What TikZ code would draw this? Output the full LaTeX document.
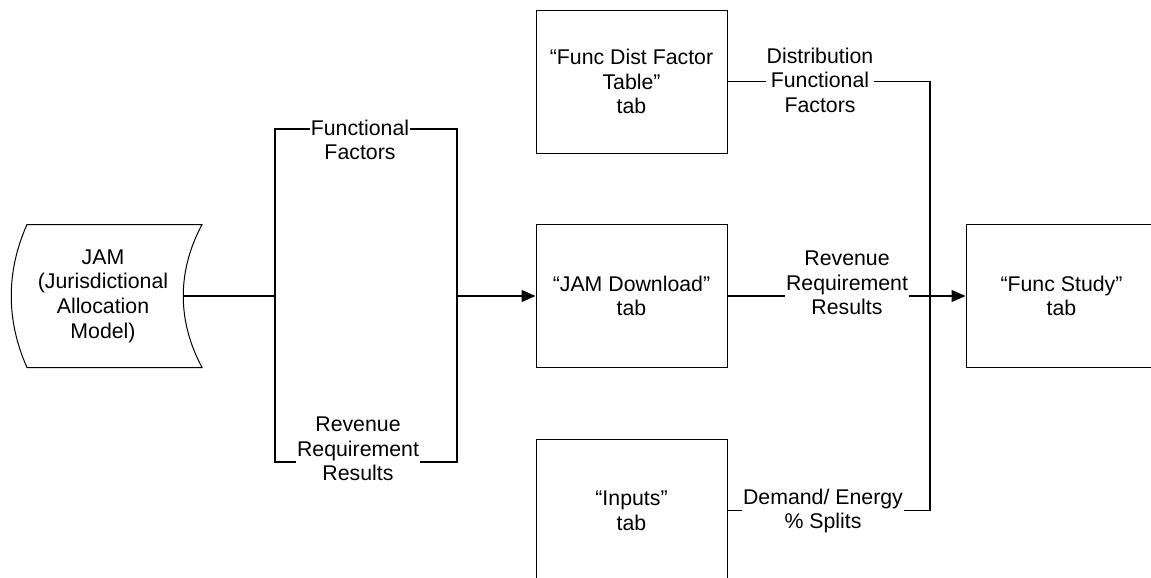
\documentclass[tikz,border=0pt]{standalone}
\usepackage{fontspec}
\setmainfont{Liberation Sans}
\usetikzlibrary{arrows.meta,positioning}

\tikzset{
  tabbox/.style={draw, line width=0.5pt, minimum width=95.5pt, minimum height=71.5pt, align=center, inner sep=0pt},
  conn/.style={line width=0.6pt},
  flow/.style={conn, -{Triangle[length=7pt,width=6pt]}},
  lbl/.style={fill=white, inner xsep=0.5pt, inner ysep=0pt, align=center}
}

\begin{document}
\begin{tikzpicture}[x=0.5pt,y=-0.5pt,font=\fontsize{10.65pt}{12.3pt}\selectfont]
		\useasboundingbox (0,0) rectangle (1151,578);
		\clip (0,0) rectangle (1151,578);

		% stored data source
		\node[align=center] (jam) at (103,296) {JAM\\(Jurisdictional\\Allocation\\Model)};
		\begin{scope}[shift={(jam.center)}]
			\draw[line width=0.5pt] (-76,-71.5) -- (99,-71.5) .. controls (74,-24.5) and (74,24.5) .. (99,71.5)
				-- (-76,71.5) .. controls (-97,24.5) and (-97,-24.5) .. cycle;
			\coordinate (jamout) at (80,0);
		\end{scope}

		% workbook tabs
		\node[tabbox] (fdist) at (631.5,81.5) {“Func Dist Factor\\Table”\\tab};
		\node[tabbox] (jamdl) at (631.5,296) {“JAM Download”\\tab};
		\node[tabbox] (inputs) at (631.5,510.5) {“Inputs”\\tab};
		\node[tabbox] (fstudy) at (1061.5,296) {“Func Study”\\tab};

		\coordinate (jsplit) at (275,296);
		\coordinate (jjoin) at (457,296);
		\coordinate (fftop) at (366,129);
		\coordinate (rrbot) at (366,462);
		\coordinate (rjoin) at (930,296);

		% JAM feeds the download tab
		\draw[conn] (jamout) -- (jsplit);
		\draw[conn] (jsplit) |- (fftop) -| (jjoin);
		\draw[conn] (jsplit) |- (rrbot) -| (jjoin);
		\draw[flow] (jjoin) -- (jamdl.west);

		% tabs feed the study tab
		\draw[conn] (fdist.east) -| (rjoin);
		\draw[conn] (inputs.east) -| (rjoin);
		\draw[conn] (jamdl.east) -- (rjoin);
		\draw[flow] (rjoin) -- (fstudy.west);

		\node[lbl] (fflbl) at (360,140) {Functional\\Factors};
		\node[lbl] (rrlbl) at (358,449) {Revenue\\Requirement\\Results};
		\node[lbl] (dflbl) at (820,80) {Distribution\\Functional\\Factors};
		\node[lbl] (rrout) at (847,283) {Revenue\\Requirement\\Results};
		\node[lbl] (delbl) at (823,511) {Demand/ Energy\\\% Splits};
	\end{tikzpicture}
\end{document}
